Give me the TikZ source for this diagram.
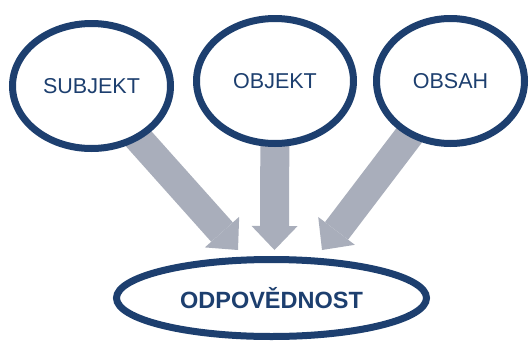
\documentclass[tikz,border=0pt]{standalone}
\usepackage{fontspec}
\setmainfont{Liberation Sans}
\usepackage{tikz}
\usetikzlibrary{arrows.meta}
\usetikzlibrary{shapes.geometric}
\usetikzlibrary{backgrounds}
\definecolor{navy}{HTML}{1D3F6F}
\definecolor{arrowgray}{HTML}{A9AEBB}

\begin{document}
\begin{tikzpicture}
	[x=1pt,y=-1pt,
	every node/.style={ellipse,draw=navy,line width=7pt,fill=white,text=navy,inner sep=0pt},
	bigarrow/.style={draw=arrowgray,fill=arrowgray,line width=29pt,
		-{Triangle[length=24pt,width=46pt,line width=0pt]}}]
	\useasboundingbox (0,0) rectangle (530,343);
	\node[minimum width=158pt,minimum height=125pt,font=\fontsize{21.5}{24}\selectfont] (subj) at (91.5,86) {SUBJEKT};
	\node[minimum width=157pt,minimum height=125pt,font=\fontsize{21.5}{24}\selectfont] (obj) at (275,81) {OBJEKT};
	\node[minimum width=148pt,minimum height=125pt,font=\fontsize{21.5}{24}\selectfont] (obsah) at (450.5,81) {OBSAH};
	\node[minimum width=310pt,minimum height=77pt,font=\bfseries\fontsize{23.5}{26}\selectfont] (odp) at (271.5,298) {ODPOVĚDNOST};
	\coordinate (t1) at (238,250);
	\coordinate (t2) at (274.5,250);
	\coordinate (t3) at (322,250);
	
	\begin{scope}[on background layer]
	\foreach \from/\to in {subj/t1, obj/t2, obsah/t3}
	\draw[bigarrow] (\from.center) -- (\to);
	\end{scope}
\end{tikzpicture}
\end{document}
